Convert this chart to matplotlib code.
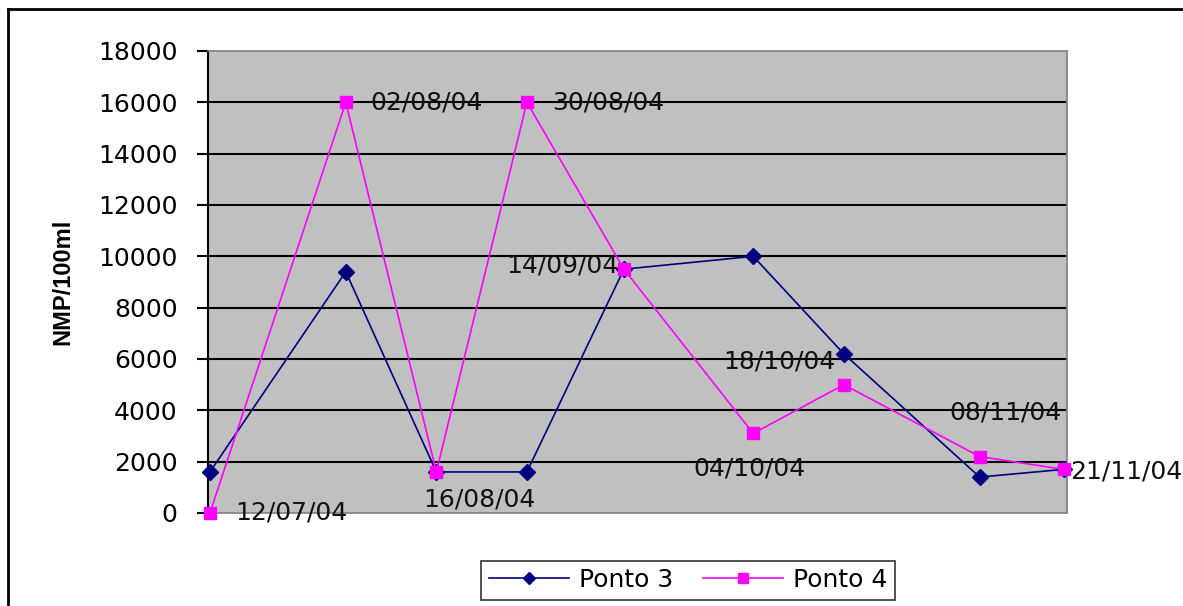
import matplotlib
matplotlib.use('Agg')
import matplotlib.pyplot as plt
import pandas as pd
from matplotlib.lines import Line2D

# Chart data
dates = ['12/07/04', '02/08/04', '16/08/04', '30/08/04', '14/09/04',
         '04/10/04', '18/10/04', '08/11/04', '21/11/04']
ponto3 = [1600, 9400, 1600, 1600, 9500, 10000, 6200, 1400, 1700]
ponto4 = [0, 16000, 1600, 16000, 9500, 3100, 5000, 2200, 1700]
y_ticks = [0, 2000, 4000, 6000, 8000, 10000, 12000, 14000, 16000, 18000]

# Label offsets (pixels) and alignment for each date label on Ponto 4
label_offsets = [(25, 0, 'left'), (25, 0, 'left'), (43, -28, 'center'),
                 (25, 0, 'left'), (-5, 4, 'right'), (-4, -35, 'center'),
                 (-64, 23, 'center'), (26, 44, 'center'), (6, -2, 'left')]

x = pd.to_datetime(dates, format='%d/%m/%y')

fig = plt.figure(figsize=(11.83, 6.06), dpi=100)
ax = fig.add_axes([208 / 1183, 1 - 513 / 606, (1067 - 208) / 1183, (513 - 51) / 606])

font = 'DejaVu Sans'
fsize = 18
ax.set_facecolor('#c0c0c0')

ax.plot(x, ponto3, color='#000080', lw=1.2, marker='D', ms=8,
        label='Ponto 3', clip_on=False, zorder=3)
ax.plot(x, ponto4, color='#ff00ff', lw=1.2, marker='s', ms=9,
        label='Ponto 4', clip_on=False, zorder=4)

for xi, yi, txt, (dx, dy, ha) in zip(x, ponto4, dates, label_offsets):
    ax.annotate(txt, (xi, yi), xytext=(dx, dy), textcoords='offset pixels',
                ha=ha, va='center', fontsize=fsize, family=font, color='#111111',
                annotation_clip=False, zorder=5)

ax.set_ylim(0, 18000)
ax.set_xlim(x[0] - pd.Timedelta(days=0.3), x[-1] + pd.Timedelta(days=0.5))
ax.set_yticks(y_ticks)
ax.set_yticklabels([str(v) for v in y_ticks], fontsize=fsize, family=font)
ax.set_xticks([])
ax.tick_params(axis='y', length=8, width=1.5, color='black', pad=14)

for v in y_ticks[1:-1]:
    ax.axhline(v, color='black', lw=1.5, zorder=1)

ax.spines['left'].set_linewidth(1.5)
for side in ['top', 'bottom', 'right']:
    ax.spines[side].set_color('#808080')
    ax.spines[side].set_linewidth(1.2)

ax.set_ylabel('NMP/100ml', fontsize=17, fontweight='bold',
              family='Liberation Sans', labelpad=17)

leg = fig.legend(loc='center', bbox_to_anchor=(688 / 1183, 1 - 580 / 606),
                 ncol=2, prop={'family': font, 'size': fsize}, frameon=True,
                 fancybox=False, edgecolor='black', handlelength=3.2,
                 columnspacing=1.2, borderpad=0.3, handletextpad=0.4,
                 markerscale=0.8)
leg.get_frame().set_linewidth(1.2)

# Outer chart border: only the top and left edges are visible
fig.add_artist(Line2D([8 / 1183, 1], [1 - 9 / 606, 1 - 9 / 606],
                      transform=fig.transFigure, color='black', lw=2))
fig.add_artist(Line2D([8 / 1183, 8 / 1183], [0, 1 - 9 / 606],
                      transform=fig.transFigure, color='black', lw=2))

fig.savefig('out.png', dpi=100)
